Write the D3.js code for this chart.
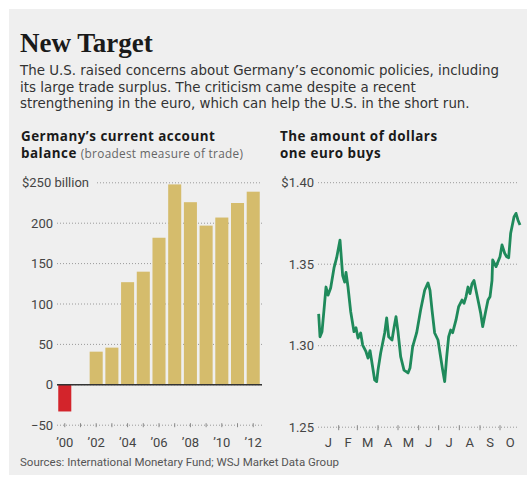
<!DOCTYPE html>
<html>
<head>
<meta charset="utf-8">
<script src="https://cdn.jsdelivr.net/npm/d3@7"></script>
<style>
  html, body { margin: 0; padding: 0; background: #fff; }
  svg { display: block; }
</style>
</head>
<body>
<svg id="chart" width="527" height="481"></svg>
<script>
// Germany's current account balance, $ billion
const years = ["2000","2001","2002","2003","2004","2005","2006","2007","2008","2009","2010","2011","2012"];
const balance = [-33, 0, 41, 46, 127, 140, 182, 248, 226, 197, 207, 225, 239];
const balanceTicks = [-50, 0, 50, 100, 150, 200, 250];
const yearLabels = ["2000","2002","2004","2006","2008","2010","2012"];

// Dollars per euro, 2013
const fxDates = ["2013-01-02","2013-01-04","2013-01-07","2013-01-10","2013-01-13","2013-01-16","2013-01-20","2013-01-25","2013-01-29",
  "2013-02-03","2013-02-07","2013-02-10","2013-02-12","2013-02-15","2013-02-19","2013-02-24","2013-02-27",
  "2013-03-02","2013-03-06","2013-03-09","2013-03-14","2013-03-17","2013-03-20","2013-03-23","2013-03-27","2013-03-30",
  "2013-04-01","2013-04-05","2013-04-11","2013-04-14","2013-04-17","2013-04-22","2013-04-25","2013-04-28",
  "2013-05-01","2013-05-05","2013-05-10","2013-05-16","2013-05-19","2013-05-23","2013-05-29",
  "2013-06-04","2013-06-10","2013-06-15","2013-06-18","2013-06-21","2013-06-25","2013-06-30",
  "2013-07-03","2013-07-07","2013-07-10","2013-07-13","2013-07-16","2013-07-19","2013-07-22","2013-07-27","2013-07-31",
  "2013-08-05","2013-08-08","2013-08-11","2013-08-14","2013-08-17","2013-08-20","2013-08-23","2013-08-26","2013-08-30",
  "2013-09-02","2013-09-05","2013-09-10","2013-09-13","2013-09-16","2013-09-19","2013-09-20","2013-09-25",
  "2013-10-01","2013-10-04","2013-10-08","2013-10-11","2013-10-14","2013-10-17","2013-10-22","2013-10-25","2013-10-28","2013-10-31"];
const fxValues = [1.3195,1.3055,1.3086,1.3220,1.3360,1.3310,1.3354,1.3477,1.3540,
  1.3648,1.3430,1.3390,1.3450,1.3360,1.3210,1.3086,1.3110,
  1.3047,1.3078,1.3004,1.2963,1.2924,1.2970,1.2894,1.2790,1.2780,
  1.2850,1.2955,1.3078,1.3170,1.3055,1.3035,1.3110,1.3178,
  1.3086,1.2933,1.2850,1.2833,1.2863,1.2994,1.3080,
  1.3220,1.3340,1.3385,1.3340,1.3220,1.3078,1.3035,
  1.2955,1.2850,1.2780,1.2930,1.3055,1.3096,1.3080,1.3158,1.3240,
  1.3280,1.3260,1.3300,1.3360,1.3320,1.3380,1.3400,1.3340,1.3260,
  1.3200,1.3117,1.3220,1.3280,1.3300,1.3400,1.3526,1.3485,
  1.3546,1.3618,1.3567,1.3546,1.3540,1.3690,1.3790,1.3812,1.3770,1.3740];
const fxTicks = [1.25, 1.30, 1.35, 1.40];
const monthLabels = ["J","F","M","A","M","J","J","A","S","O"];

const svg = d3.select("#chart");
const sans = "'Open Sans', 'Noto Sans', sans-serif";
const narrow = "'Liberation Sans Narrow', 'Arial Narrow', 'Roboto', sans-serif";

// panel background
svg.append("rect").attr("x", 9).attr("y", 9).attr("width", 518).attr("height", 466).attr("fill", "#efefef");

// headline and deck
svg.append("text").attr("x", 20).attr("y", 52)
  .attr("font-family", "'Liberation Serif', 'DejaVu Serif', serif").attr("font-weight", "bold")
  .attr("font-size", 27).attr("fill", "#1a1a1a").text("New Target");

const deck = [
  "The U.S. raised concerns about Germany’s economic policies, including",
  "its large trade surplus. The criticism came despite a recent",
  "strengthening in the euro, which can help the U.S. in the short run."
];
svg.append("g").selectAll("text").data(deck).join("text")
  .attr("x", 20).attr("y", (d, i) => 75 + i * 16.5)
  .attr("font-family", "'DejaVu Sans', sans-serif").attr("font-size", 13.4).attr("fill", "#333")
  .text(d => d);

// panel headings
const headStyle = sel => sel.attr("font-family", sans).attr("font-size", 13.4)
  .attr("letter-spacing", 0.5).attr("fill", "#1a1a1a");

svg.append("text").attr("x", 21).attr("y", 141).call(headStyle)
  .attr("font-weight", "bold").text("Germany’s current account");
const head1b = svg.append("text").attr("x", 21).attr("y", 158).call(headStyle);
head1b.append("tspan").attr("font-weight", "bold").text("balance ");
head1b.append("tspan").attr("fill", "#666").attr("font-size", 11.8).attr("letter-spacing", 0.3)
  .text("(broadest measure of trade)");

svg.append("g").selectAll("text").data(["The amount of dollars", "one euro buys"]).join("text")
  .attr("x", 280).attr("y", (d, i) => 141 + i * 17)
  .call(headStyle).attr("font-weight", "bold")
  .text(d => d);

// ---------- bar chart ----------
const xBar = d3.scaleBand().domain(years).range([57, 261]).paddingInner(0.17).paddingOuter(0.08);
const yBar = d3.scaleLinear().domain([-50, 250]).range([425.2, 182.8]);

const gridL = svg.append("g");
balanceTicks.forEach(t => {
  const isTop = t === 250;
  gridL.append("line")
    .attr("x1", isTop ? 97 : 57).attr("x2", 262)
    .attr("y1", yBar(t)).attr("y2", yBar(t))
    .attr("stroke", "#9a9a9a").attr("stroke-width", 1).attr("stroke-dasharray", "1,2");
  gridL.append("text")
    .attr("x", isTop ? 22 : 53).attr("y", yBar(t) + 4.5)
    .attr("text-anchor", isTop ? "start" : "end")
    .attr("font-family", narrow).attr("font-size", 13).attr("fill", "#444")
    .text(isTop ? "$250 billion" : (t < 0 ? "\u2212" + Math.abs(t) : t));
});

// small year ticks along the bottom gridline
svg.append("g").selectAll("line").data(years).join("line")
  .attr("x1", d => xBar(d) + xBar.bandwidth() / 2).attr("x2", d => xBar(d) + xBar.bandwidth() / 2)
  .attr("y1", yBar(-50) - 2).attr("y2", yBar(-50) + 2)
  .attr("stroke", "#888").attr("stroke-width", 1);

svg.append("g").selectAll("rect").data(years).join("rect")
  .attr("x", d => xBar(d))
  .attr("width", xBar.bandwidth())
  .attr("y", (d, i) => yBar(Math.max(0, balance[i])))
  .attr("height", (d, i) => Math.abs(yBar(balance[i]) - yBar(0)))
  .attr("fill", (d, i) => balance[i] < 0 ? "#d3242b" : "#d5bc6c");

svg.append("line").attr("x1", 57).attr("x2", 262).attr("y1", yBar(0)).attr("y2", yBar(0))
  .attr("stroke", "#333").attr("stroke-width", 1.5);

svg.append("g").selectAll("text").data(yearLabels).join("text")
  .attr("x", d => xBar(d) + xBar.bandwidth() / 2).attr("y", 447)
  .attr("text-anchor", "middle")
  .attr("font-family", narrow).attr("font-size", 13).attr("fill", "#444")
  .text(d => "’" + d.slice(2));

// ---------- exchange-rate line ----------
const parse = d3.timeParse("%Y-%m-%d");
const fx = fxDates.map((d, i) => ({ date: parse(d), value: fxValues[i] }));
const xFx = d3.scaleTime().domain([parse("2013-01-01"), parse("2013-10-31")]).range([318, 520]);
const yFx = d3.scaleLinear().domain([1.25, 1.40]).range([427.2, 182.7]);

const gridR = svg.append("g");
fxTicks.forEach(t => {
  gridR.append("line")
    .attr("x1", 318).attr("x2", 519)
    .attr("y1", yFx(t)).attr("y2", yFx(t))
    .attr("stroke", "#9a9a9a").attr("stroke-width", 1).attr("stroke-dasharray", "1,2");
  gridR.append("text")
    .attr("x", 314).attr("y", yFx(t) + 4.5)
    .attr("text-anchor", "end")
    .attr("font-family", narrow).attr("font-size", 13).attr("fill", "#444")
    .text(t === 1.40 ? "$1.40" : t.toFixed(2));
});

const months = d3.timeMonth.range(parse("2013-01-01"), parse("2013-11-01"));
svg.append("g").selectAll("line").data(months.slice(1)).join("line")
  .attr("x1", d => xFx(d)).attr("x2", d => xFx(d))
  .attr("y1", yFx(1.25) - 2).attr("y2", yFx(1.25) + 3)
  .attr("stroke", "#888").attr("stroke-width", 1);

svg.append("g").selectAll("text").data(months).join("text")
  .attr("x", d => (xFx(d) + xFx(d3.timeMonth.offset(d, 1))) / 2).attr("y", 447)
  .attr("text-anchor", "middle")
  .attr("font-family", narrow).attr("font-size", 13).attr("fill", "#444")
  .text((d, i) => monthLabels[i]);

svg.append("path").datum(fx)
  .attr("fill", "none").attr("stroke", "#1f8a5b").attr("stroke-width", 2.8)
  .attr("stroke-linejoin", "round")
  .attr("d", d3.line().x(d => xFx(d.date)).y(d => yFx(d.value)));

// source line
svg.append("text").attr("x", 20).attr("y", 466)
  .attr("font-family", narrow).attr("font-size", 11.5).attr("fill", "#555")
  .text("Sources: International Monetary Fund; WSJ Market Data Group");
</script>
</body>
</html>
